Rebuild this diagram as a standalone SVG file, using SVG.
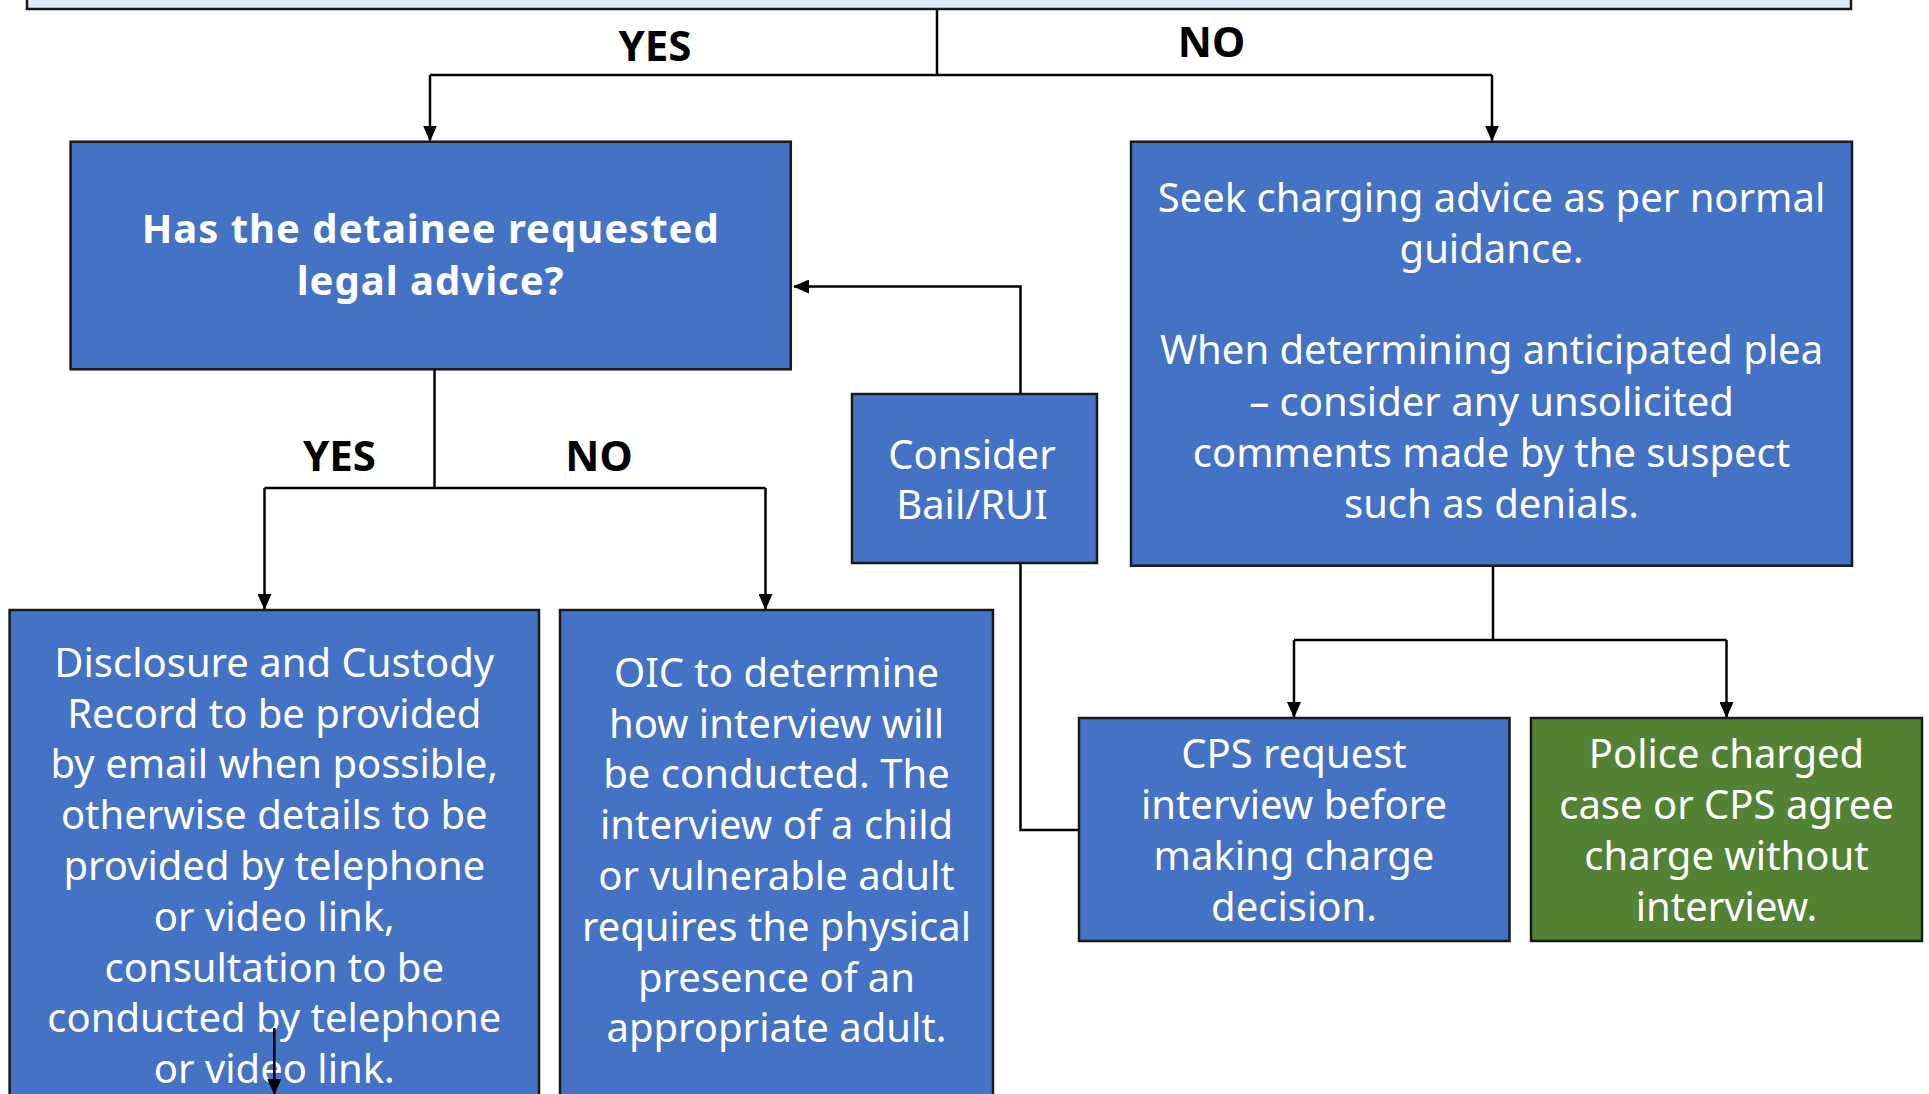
<svg xmlns="http://www.w3.org/2000/svg" width="1929" height="1094" viewBox="0 0 1929 1094">
<style>
.box{fill:#4472C4;stroke:#1a1a1a;stroke-width:2.5}
.green{fill:#548235;stroke:#1a1a1a;stroke-width:2.5}
.top{fill:#DEEBF7;stroke:#1a1a1a;stroke-width:2.5}
.t{font-family:"Noto Sans","Open Sans","DejaVu Sans",sans-serif;font-size:40px;fill:#ffffff;text-anchor:middle}
.b{font-family:"Noto Sans","Open Sans","DejaVu Sans",sans-serif;font-size:40px;font-weight:700;letter-spacing:1px;fill:#ffffff;text-anchor:middle}
.lbl{font-family:"Noto Sans","Open Sans","DejaVu Sans",sans-serif;font-size:42px;font-weight:700;fill:#000000;text-anchor:middle}
.c{fill:none;stroke:#000000;stroke-width:2.5}
</style>
<defs>
<marker id="ah" markerUnits="userSpaceOnUse" markerWidth="16" markerHeight="14" viewBox="0 0 16 14" refX="15" refY="7" orient="auto">
<path d="M0,0 L16,7 L0,14 z" fill="#000000"/>
</marker>
</defs>
<rect width="1929" height="1094" fill="#ffffff"/>

<g id="node-top">
<rect class="top" x="27" y="-10" width="1824" height="19"/>
</g>

<g id="node-legal">
<rect class="box" x="70.6" y="141.7" width="720.2" height="227.6"/>
<text class="b" x="430.7" y="242.8">Has the detainee requested</text>
<text class="b" x="430.7" y="294.6">legal advice?</text>
</g>

<g id="node-seek">
<rect class="box" x="1131" y="141.7" width="721" height="424"/>
<text class="t" x="1491.5" y="212">Seek charging advice as per normal</text>
<text class="t" x="1491.5" y="263">guidance.</text>
<text class="t" x="1491.5" y="364">When determining anticipated plea</text>
<text class="t" x="1491.5" y="415.5">– consider any unsolicited</text>
<text class="t" x="1491.5" y="467">comments made by the suspect</text>
<text class="t" x="1491.5" y="518">such as denials.</text>
</g>

<g id="node-bail">
<rect class="box" x="852" y="394" width="245" height="169"/>
<text class="t" x="972" y="469">Consider</text>
<text class="t" x="972" y="519">Bail/RUI</text>
</g>

<g id="node-disclosure">
<rect class="box" x="9.6" y="610" width="529.4" height="500"/>
<text class="t" x="274.3" y="676.7">Disclosure and Custody</text>
<text class="t" x="274.3" y="727.5">Record to be provided</text>
<text class="t" x="274.3" y="778.3">by email when possible,</text>
<text class="t" x="274.3" y="829.1">otherwise details to be</text>
<text class="t" x="274.3" y="879.9">provided by telephone</text>
<text class="t" x="274.3" y="930.7">or video link,</text>
<text class="t" x="274.3" y="981.5">consultation to be</text>
<text class="t" x="274.3" y="1032.3">conducted by telephone</text>
<text class="t" x="274.3" y="1083.1">or video link.</text>
</g>

<g id="node-oic">
<rect class="box" x="560" y="610" width="433" height="500"/>
<text class="t" x="776.5" y="686.7">OIC to determine</text>
<text class="t" x="776.5" y="737.5">how interview will</text>
<text class="t" x="776.5" y="788.3">be conducted. The</text>
<text class="t" x="776.5" y="839.1">interview of a child</text>
<text class="t" x="776.5" y="889.9">or vulnerable adult</text>
<text class="t" x="776.5" y="940.7">requires the physical</text>
<text class="t" x="776.5" y="991.5">presence of an</text>
<text class="t" x="776.5" y="1042.3">appropriate adult.</text>
</g>

<g id="node-cps">
<rect class="box" x="1079" y="718" width="430.5" height="223"/>
<text class="t" x="1294" y="768.3">CPS request</text>
<text class="t" x="1294" y="819.2">interview before</text>
<text class="t" x="1294" y="870">making charge</text>
<text class="t" x="1294" y="921">decision.</text>
</g>

<g id="node-police">
<rect class="green" x="1531" y="718" width="391" height="223"/>
<text class="t" x="1726.5" y="768.3">Police charged</text>
<text class="t" x="1726.5" y="819.2">case or CPS agree</text>
<text class="t" x="1726.5" y="870">charge without</text>
<text class="t" x="1726.5" y="921">interview.</text>
</g>

<g id="connectors">
<path class="c" d="M937,9 V75"/>
<path class="c" d="M430,75 H1492"/>
<path class="c" d="M430,75 V140.5" marker-end="url(#ah)"/>
<path class="c" d="M1492,75 V140.5" marker-end="url(#ah)"/>
<path class="c" d="M434.5,369 V488"/>
<path class="c" d="M264.5,488 H765.5"/>
<path class="c" d="M264.5,488 V609" marker-end="url(#ah)"/>
<path class="c" d="M765.5,488 V609" marker-end="url(#ah)"/>
<path class="c" d="M1020.5,394 V286.5 H794" marker-end="url(#ah)"/>
<path class="c" d="M1020.5,563 V830 H1079"/>
<path class="c" d="M1493,566 V640"/>
<path class="c" d="M1294,640 H1726.5"/>
<path class="c" d="M1294,640 V717" marker-end="url(#ah)"/>
<path class="c" d="M1726.5,640 V717" marker-end="url(#ah)"/>
<path class="c" d="M274.3,1028 V1094" marker-end="url(#ah)"/>
</g>

<g id="labels">
<text class="lbl" x="655" y="61">YES</text>
<text class="lbl" x="1211.5" y="57">NO</text>
<text class="lbl" x="339.5" y="470.7">YES</text>
<text class="lbl" x="599" y="470.7">NO</text>
</g>
</svg>
